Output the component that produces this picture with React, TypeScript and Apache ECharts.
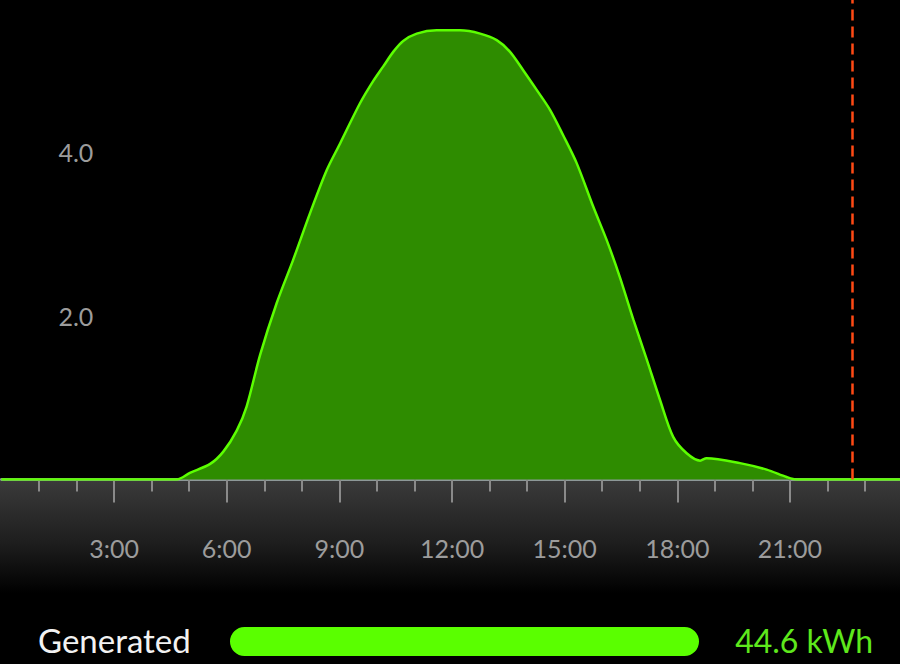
import React, { useRef, useEffect } from 'react';
import * as echarts from 'echarts';

// hour of day and generated power (kW)
const hours = [
    0, 4.67, 5.02, 5.56, 5.91, 6.27, 6.53, 6.89, 7.33, 7.77, 8.22, 8.66, 9.02, 9.55,
    9.9, 10.17, 10.44, 10.7, 11.06, 11.59, 12.21, 12.75, 13.19, 13.54, 13.9, 14.26,
    14.61, 14.96, 15.32, 15.76, 16.12, 16.47, 16.83, 17.19, 17.54, 17.89, 18.25, 18.61,
    18.78, 19.67, 20.38, 20.91, 21.18, 24
];
const power = [
    0, 0, 0.08, 0.19, 0.34, 0.6, 0.89, 1.52, 2.15, 2.68, 3.25, 3.77, 4.1, 4.59,
    4.86, 5.04, 5.22, 5.35, 5.44, 5.48, 5.48, 5.44, 5.36, 5.22, 4.99, 4.75,
    4.51, 4.2, 3.86, 3.33, 2.92, 2.47, 1.95, 1.46, 0.97, 0.52, 0.32, 0.23,
    0.26, 0.2, 0.12, 0.03, 0, 0
];
const hourTicks = [3, 6, 9, 12, 15, 18, 21];
const powerTicks = [2, 4];
const nowHour = 22.66;
const legendLabel = 'Generated';
const totalKwh = 44.6;

const FONT = 'Lato, "Noto Sans", sans-serif';

const App: React.FC = () => {
    const chartRef = useRef<HTMLDivElement>(null);

    useEffect(() => {
        if (!chartRef.current) return;
        const chart = echarts.init(chartRef.current, null, { renderer: 'svg' });

        const option: echarts.EChartsOption = {
            animation: false,
            backgroundColor: '#000',
            grid: { left: 1.4, top: 0, width: 901.2, height: 479.5, outerBoundsMode: 'none' } as any,
            graphic: [
                {
                    type: 'rect',
                    z: -1,
                    shape: { x: 0, y: 481, width: 900, height: 112 },
                    style: {
                        fill: new echarts.graphic.LinearGradient(0, 0, 0, 1, [
                            { offset: 0, color: '#3a3a3a' },
                            { offset: 0.55, color: '#1e1e1e' },
                            { offset: 1, color: '#000' }
                        ])
                    }
                },
                {
                    type: 'text',
                    left: 38,
                    top: 623,
                    style: { text: legendLabel, fill: '#f2f2f2', font: `33px ${FONT}` }
                },
                {
                    type: 'rect',
                    shape: { x: 230, y: 627, width: 469, height: 29, r: 14.5 },
                    style: { fill: '#5aff00' }
                },
                {
                    type: 'text',
                    right: 27,
                    top: 624,
                    style: { text: `${totalKwh} kWh`, fill: '#5ee81c', font: `32px ${FONT}` }
                }
            ],
            xAxis: {
                type: 'value',
                min: 0,
                max: 24,
                interval: 3,
                axisLine: { show: true, lineStyle: { color: '#8d9898', width: 3 } },
                axisTick: {
                    show: true,
                    customValues: hourTicks,
                    length: 23,
                    lineStyle: { color: '#8a8a8a', width: 2 }
                },
                minorTick: { show: true, splitNumber: 3, length: 12, lineStyle: { color: '#8a8a8a', width: 2 } },
                splitLine: { show: false },
                axisLabel: {
                    color: '#9c9c9c',
                    fontSize: 25,
                    fontFamily: FONT,
                    margin: 56,
                    formatter: (v: number) => (hourTicks.includes(v) ? `${v}:00` : '')
                }
            },
            yAxis: {
                type: 'value',
                min: 0,
                max: 5.85,
                interval: 2,
                axisLine: { show: false },
                axisTick: { show: false },
                splitLine: { show: false },
                axisLabel: {
                    inside: true,
                    margin: 57,
                    color: '#9c9c9c',
                    fontSize: 25,
                    fontFamily: FONT,
                    formatter: (v: number) => (powerTicks.includes(v) ? v.toFixed(1) : '')
                }
            },
            series: [
                {
                    type: 'line',
                    data: hours.map((h, i) => [h, power[i]]),
                    smooth: 0.3,
                    showSymbol: false,
                    lineStyle: { color: '#5cff00', width: 2.5 },
                    areaStyle: { color: '#2e8c00', opacity: 1 },
                    z: 3,
                    markLine: {
                        silent: true,
                        symbol: 'none',
                        label: { show: false },
                        lineStyle: { color: '#ff4a14', width: 2.5, type: [11, 6] },
                        data: [{ xAxis: nowHour }]
                    }
                }
            ]
        };

        chart.setOption(option);

        return () => {
            chart.dispose();
        };
    }, []);

    return (
        <div
            ref={chartRef}
            style={{ position: 'fixed', left: 0, top: 0, width: 900, height: 664 }}
        />
    );
};

export default App;
